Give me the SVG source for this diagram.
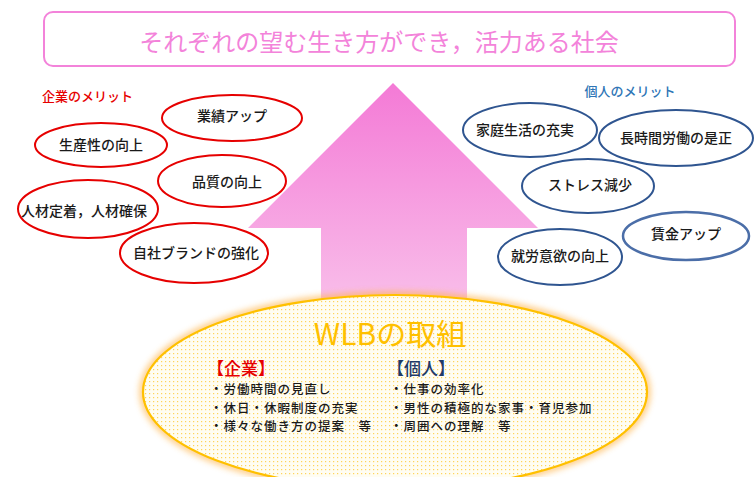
<svg xmlns="http://www.w3.org/2000/svg" width="754" height="477" viewBox="0 0 754 477">
  <defs>
    <style>
      text { font-family: "Noto Sans CJK JP", "Noto Sans", sans-serif; font-weight: 500; }
      .red { fill: #ffffff; stroke: #e60000; stroke-width: 2; }
      .blue { fill: #ffffff; stroke: #2f5590; stroke-width: 2; }
      .lbl { font-size: 14px; fill: #1a1a1a; text-anchor: middle; dominant-baseline: central; }
      .item { font-size: 12.5px; fill: #1a1a1a; letter-spacing: 1px; }
    </style>
    <linearGradient id="arrowGrad" x1="0" y1="83" x2="0" y2="330" gradientUnits="userSpaceOnUse">
      <stop offset="0" stop-color="#f47ad6"/>
      <stop offset="1" stop-color="#f9c6ec"/>
    </linearGradient>
    <pattern id="dots" width="4" height="4" patternUnits="userSpaceOnUse">
      <rect width="4" height="4" fill="#fffdf2"/>
      <rect x="1" y="1" width="1.2" height="1.2" fill="#ffd45a"/>
    </pattern>
    <filter id="glow" x="-10%" y="-20%" width="120%" height="140%">
      <feGaussianBlur stdDeviation="3"/>
    </filter>
    <filter id="soft" x="-10%" y="-20%" width="120%" height="140%">
      <feGaussianBlur stdDeviation="0.7"/>
    </filter>
  </defs>

  <rect width="754" height="477" fill="#ffffff"/>

  <g id="goal">
    <rect x="44" y="12" width="691" height="54" rx="9" fill="#ffffff" stroke="#f383da" stroke-width="2"/>
    <text x="379" y="40" font-size="24" fill="#f383da" text-anchor="middle" dominant-baseline="central" style="font-weight:400">それぞれの望む生き方ができ，活力ある社会</text>
  </g>

  <g id="connectors">
    <polygon points="393,83 538,228 467,228 467,335 321,335 321,228 248,228" fill="url(#arrowGrad)"/>
  </g>

  <g id="wlb">
    <ellipse cx="395" cy="392" rx="252" ry="97" fill="none" stroke="#ffb347" stroke-width="7" opacity="0.7" filter="url(#glow)"/>
    <ellipse cx="395" cy="392" rx="252" ry="97" fill="url(#dots)" stroke="#ffc000" stroke-width="2.2"/>
    <text x="390" y="332" font-size="30" fill="#ffc000" text-anchor="middle" dominant-baseline="central" style="font-weight:400">WLBの取組</text>
    <text x="207" y="375" font-size="17" fill="#e60000">【企業】</text>
    <text x="210" y="394" class="item">・労働時間の見直し</text>
    <text x="210" y="412.5" class="item">・休日・休暇制度の充実</text>
    <text x="210" y="431" class="item">・様々な働き方の提案　等</text>
    <text x="387" y="375" font-size="17" fill="#1f3a68">【個人】</text>
    <text x="390" y="394" class="item">・仕事の効率化</text>
    <text x="390" y="412.5" class="item">・男性の積極的な家事・育児参加</text>
    <text x="390" y="431" class="item">・周囲への理解　等</text>
  </g>

  <g id="company-label">
    <text x="42" y="95" font-size="13" fill="#e60000" dominant-baseline="central">企業のメリット</text>
  </g>
  <g id="c1">
    <ellipse cx="232" cy="118" rx="70" ry="23" class="red"/>
    <text x="232" y="115" class="lbl" font-size="15">業績アップ</text>
  </g>
  <g id="c2">
    <ellipse cx="101" cy="145" rx="66" ry="22" class="red"/>
    <text x="101" y="144" class="lbl">生産性の向上</text>
  </g>
  <g id="c3">
    <ellipse cx="222" cy="181" rx="64" ry="26" class="red"/>
    <text x="227" y="181" class="lbl">品質の向上</text>
  </g>
  <g id="c4">
    <ellipse cx="88" cy="209" rx="70" ry="29" class="red"/>
    <text x="84" y="210" class="lbl">人材定着，人材確保</text>
  </g>
  <g id="c5">
    <ellipse cx="194" cy="253" rx="74" ry="30" class="red"/>
    <text x="196" y="252" class="lbl">自社ブランドの強化</text>
  </g>

  <g id="personal-label">
    <text x="630" y="90" font-size="13" fill="#2e75b6" text-anchor="middle" dominant-baseline="central">個人のメリット</text>
  </g>
  <g id="p1">
    <ellipse cx="530" cy="130" rx="67" ry="27" class="blue"/>
    <text x="525" y="129" class="lbl">家庭生活の充実</text>
  </g>
  <g id="p2">
    <ellipse cx="676" cy="138" rx="77" ry="28" class="blue"/>
    <text x="676" y="137" class="lbl">長時間労働の是正</text>
  </g>
  <g id="p3">
    <ellipse cx="588" cy="186" rx="66" ry="27" class="blue"/>
    <text x="590" y="184" class="lbl" font-size="15">ストレス減少</text>
  </g>
  <g id="p4">
    <ellipse cx="686" cy="236" rx="63" ry="24" fill="#ffffff" stroke="#4b6ea8" stroke-width="2.5" filter="url(#soft)"/>
    <text x="686" y="233" class="lbl" font-size="15">賃金アップ</text>
  </g>
  <g id="p5">
    <ellipse cx="560" cy="257" rx="62" ry="28" class="blue"/>
    <text x="560" y="255" class="lbl">就労意欲の向上</text>
  </g>
</svg>
